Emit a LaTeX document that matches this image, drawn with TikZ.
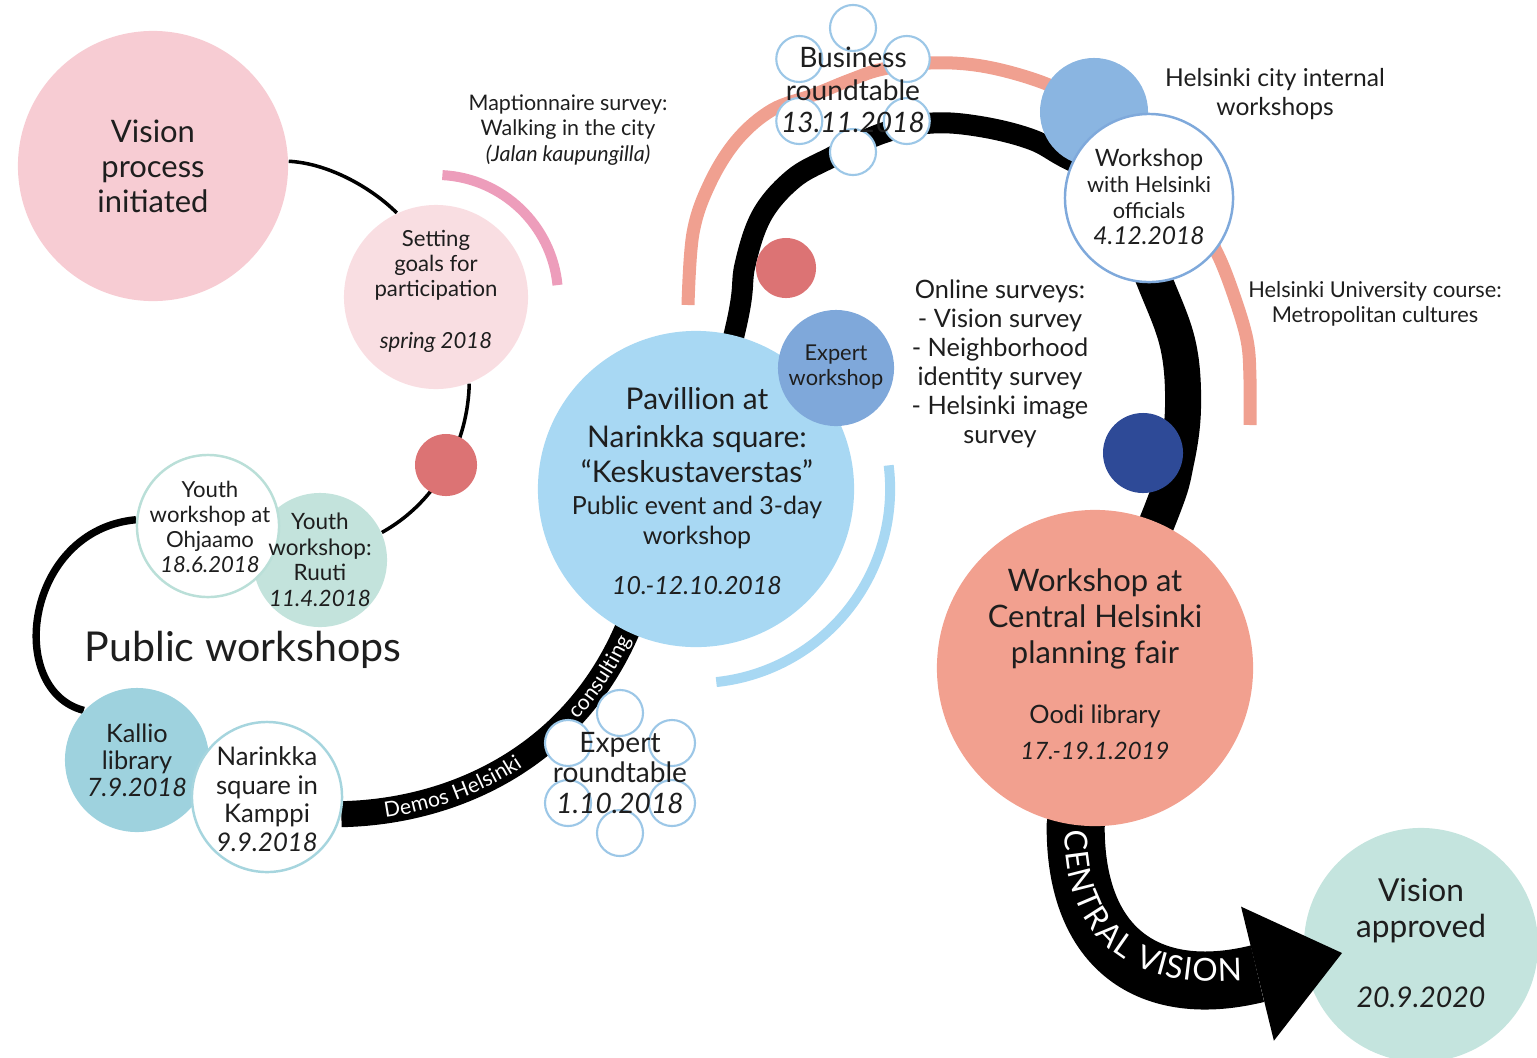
\documentclass[tikz,border=0pt]{standalone}
\usepackage{fontspec}
\setmainfont{Lato}
\usetikzlibrary{arrows.meta,decorations.text}

\definecolor{ink}{HTML}{1E1E1E}
\definecolor{initpink}{HTML}{F7CCD3}
\definecolor{goalpink}{HTML}{F9DEE2}
\definecolor{maptpink}{HTML}{ED9DBB}
\definecolor{dotred}{HTML}{DC7374}
\definecolor{ruutimint}{HTML}{C3E3DC}
\definecolor{ohjline}{HTML}{BADFD8}
\definecolor{kallioblue}{HTML}{9ED2DE}
\definecolor{narline}{HTML}{A6D5DE}
\definecolor{pavblue}{HTML}{A8D8F3}
\definecolor{expertblue}{HTML}{7FA8DA}
\definecolor{cityblue}{HTML}{8AB5E1}
\definecolor{offline}{HTML}{7FA9DB}
\definecolor{seatblue}{HTML}{9CC7E7}
\definecolor{navyblue}{HTML}{2E4A97}
\definecolor{arcsalmon}{HTML}{F0A090}
\definecolor{fairsalmon}{HTML}{F2A08F}
\definecolor{approvedmint}{HTML}{C4E4DE}

\pgfdeclarelayer{background}
\pgfsetlayers{background,main}

\newcommand{\fsz}[2]{\fontsize{#1}{#2}\selectfont}

\begin{document}
\begin{tikzpicture}[
	x=0.01cm, y=-0.01cm,
	every node/.style={inner sep=0pt, align=center, text=ink},
	bubble/.style={circle, minimum size=#1},
	ringed/.style={draw=#1, line width=0.7pt, fill=white},
	seat/.style={circle, minimum size=0.46cm, draw=seatblue, line width=0.6pt, fill=white},
	thinlink/.style={line width=1pt, black},
	blackloop/.style={line width=2.1pt, black},
	band/.style={line width=#1, black},
	ribbon/.style={line width=#1},
]
\useasboundingbox (0,0) rectangle (1537,1057);

% start of the process
\node[bubble=2.7cm, fill=initpink] (init) at (153,166) {};
\node[font=\fsz{8.8}{10}] (inittext) at (init) {Vision\\process\\initiated};
\node[bubble=1.84cm, fill=goalpink] (goals) at (436,297) {};
\node[font=\fsz{6.3}{7.1}] (goalstext) at (436,291) {Setting\\goals for\\participation\\[7.7pt]\itshape spring 2018};
\node[font=\fsz{6.1}{7.25}] (mapt) at (568,130) {Maptionnaire survey:\\Walking in the city\\\itshape (Jalan kaupungilla)};
\node[bubble=0.62cm, fill=dotred] (dot1) at (446,465) {};

% public workshops
\node[bubble=1.34cm, fill=ruutimint] (ruuti) at (320,560) {};
\node[bubble=1.42cm, ringed=ohjline] (ohjaamo) at (208,526) {};
\node[font=\fsz{6.3}{7.1}] (ohjtext) at (210,527) {Youth\\workshop at\\Ohjaamo\\\itshape 18.6.2018};
\node[font=\fsz{6.4}{7.25}] (ruutitext) at (320,560) {Youth\\workshop:\\Ruuti\\\itshape 11.4.2018};
\node[font=\fsz{11.7}{14}] (public) at (243,650) {Public workshops};
\node[bubble=1.44cm, fill=kallioblue] (kallio) at (137,760) {};
\node[bubble=1.5cm, ringed=narline] (narinkka) at (267,797) {};
\node[font=\fsz{7.2}{7.7}] (kalliotext) at (137,760) {Kallio\\library\\\itshape 7.9.2018};
\node[font=\fsz{7.3}{8.1}] (narinkkatext) at (267,799) {Narinkka\\square in\\Kamppi\\\itshape 9.9.2018};

% pavillion and roundtables
\node[bubble=3.16cm, fill=pavblue] (pav) at (696,489) {};
\node[bubble=1.16cm, fill=expertblue] (expws) at (836,368) {};
\node[font=\fsz{7.1}{8.5}] (pavtext) at (697,491) {\fsz{8.5}{10}Pavillion at\\[2.3pt]\fsz{8.5}{10}Narinkka square:\\[1.4pt]\fsz{8.5}{10}“Keskustaverstas”\\[0.6pt]Public event and 3-day\\workshop\\[5.7pt]\itshape 10.-12.10.2018};
\node[font=\fsz{6.2}{7.1}] (expwstext) at (836,367) {Expert\\workshop};

\coordinate (xrtc) at (620,773);
\foreach \a [count=\i] in {90,30,-30,-90,-150,150}
	\node[seat] (xrt\i) at ([shift={(\a:0.6cm)}]xrtc) {};
\node[font=\fsz{8}{8.8}] (xrttext) at (xrtc) {Expert\\roundtable\\\itshape 1.10.2018};

\coordinate (bizc) at (853,90);
\foreach \a [count=\i] in {90,30,-30,-90,-150,150}
	\node[seat] (biz\i) at ([shift={(\a:0.62cm)}]bizc) {};
\node[font=\fsz{8}{9.2}] (biztext) at (bizc) {Business\\roundtable\\\itshape 13.11.2018};

% city workshops
\node[bubble=0.6cm, fill=dotred] (dot2) at (786,268) {};
\node[bubble=1.08cm, fill=cityblue] (city) at (1094,112) {};
\node[bubble=1.68cm, ringed=offline] (offic) at (1149,198) {};
\node[font=\fsz{6.2}{7.4}] (offictext) at (1149,197) {\fsz{6.8}{7.4}Workshop\\with Helsinki\\officials\\\fsz{7}{7.4}\itshape 4.12.2018};
\node[font=\fsz{7}{8}] (citylbl) at (1275,94) {Helsinki city internal\\workshops};
\node[font=\fsz{6.2}{7.1}] (unilbl) at (1375,304) {Helsinki University course:\\Metropolitan cultures};
\node[font=\fsz{7.2}{8.25}] (online) at (1000,364) {Online surveys:\\- Vision survey\\- Neighborhood\\identity survey\\- Helsinki image\\survey};
\node[bubble=0.8cm, fill=navyblue] (navy) at (1143,453) {};

% planning fair and approval
\node[bubble=3.16cm, fill=fairsalmon] (fair) at (1095,668) {};
\node[font=\fsz{8.8}{10.2}] (fairtext) at (1095,664) {Workshop at\\Central Helsinki\\planning fair\\[6.8pt]\fsz{7.2}{10.2}Oodi library\\\fsz{6.8}{10.2}\itshape 17.-19.1.2019};
\node[font=\fsz{9}{10.5}] (approvedtext) at (1421,943) {Vision\\approved\\[9.4pt]\fsz{8.1}{10.5}\itshape 20.9.2020};
\coordinate (visiontip) at (1342,953);

\begin{pgfonlayer}{background}
\node[bubble=2.34cm, fill=approvedmint] (approved) at (1421,945) {};

\draw[thinlink] (init.2) .. controls +(40,2) and +(-25,-25) .. (goals.115);
\draw[thinlink] (goals.-69) .. controls (468,440) and (440,500) .. (ruuti.24);
\draw[blackloop] (ohjaamo.175) .. controls (25,530) and (5,690) .. (kallio.137);
\draw[ribbon=0.1cm, maptpink] ([shift={(5.6:1.22cm)}]goals.center) arc[start angle=5.6, end angle=87, radius=1.22cm];

\draw[band=0.26cm] (narinkka.-13) .. controls (450,812) and (570,760) .. (pav.-116) -- (pav.center);
\path[decorate, decoration={text along path, text color=white, raise=-2pt,
	text align={left indent=0.43cm}, text={|\fsz{6}{7}|Demos Helsinki}}]
	(narinkka.-13) .. controls (450,812) and (570,760) .. (pav.-116);
\path[decorate, decoration={text along path, text color=white, raise=-2pt,
	text align={left indent=2.58cm}, text={|\fsz{6}{7}|consulting}}]
	(narinkka.-13) .. controls (450,812) and (570,760) .. (pav.-116);
\draw[ribbon=0.1cm, pavblue] ([shift={(7:1.94cm)}]pav.center) arc[start angle=7, end angle=-84, radius=1.94cm];

\draw[ribbon=0.13cm, arcsalmon] plot[smooth, tension=0.6] coordinates {(688,305) (693,233) (710,183) (737,140) (772,110) (813,95) (850,80) (883,69) (930,63) (975,65) (1020,75) (1060,90) (city.center)};
\draw[ribbon=0.13cm, arcsalmon] plot[smooth, tension=0.6] coordinates {(offic.center) (1200,228) (1217,253) (1233,293) (1247,340) (1250,380) (1250,425)};
\draw[band=0.21cm] plot[smooth, tension=0.6] coordinates {(pav.center) (737,322) (745,265) (762,215) (793,179) (830,158) (883,133) (933,123) (983,127) (1033,140) (1070,160) (offic.center)};
\draw[band=0.36cm] plot[smooth, tension=0.6] coordinates {([xshift=-0.3cm]offic.center) (1155,282) (1178,345) (1183,407) (1176,462) (1160,515) (fair.center)};

\draw[band=0.58cm, -{Triangle[length=0.87cm, width=1.38cm, line width=0pt]}] (fair.center) -- (fair.263) .. controls (1075,950) and (1150,1000) .. (visiontip);
\path[decorate, decoration={text along path, text color=white, raise=-3.2pt,
	text align={left indent=0.04cm}, text={|\fsz{9}{10}|CENTRAL VISION}}]
	(fair.263) .. controls (1075,950) and (1150,1000) .. (visiontip);
\end{pgfonlayer}
\end{tikzpicture}
\end{document}
